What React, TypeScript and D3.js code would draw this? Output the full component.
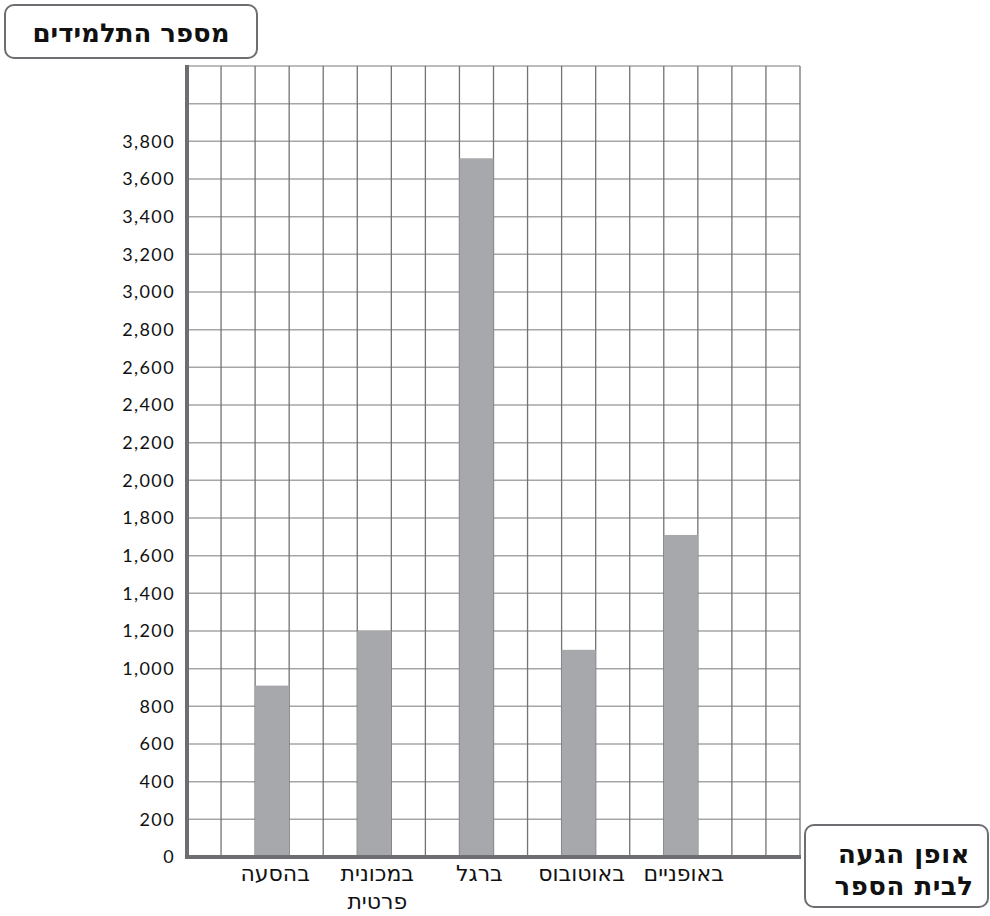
import React from 'react';
import * as d3 from 'd3';

// categories, read right-to-left as in the source
const categories = ['בהסעה', 'במכונית פרטית', 'ברגל', 'באוטובוס', 'באופניים'];
const students = [910, 1200, 3710, 1100, 1710];
const yTicks = d3.range(0, 3801, 200);
const yTitle = 'מספר התלמידים';
const xTitle = ['אופן הגעה', 'לבית הספר'];

const W = 990;
const H = 916;
const margin = { left: 187, right: 190, top: 66, bottom: 59 };
const COLS = 18;
const Y_MAX = 4200;

const App: React.FC = () => {
  const x = d3.scaleLinear().domain([0, COLS]).range([margin.left, W - margin.right]);
  const y = d3.scaleLinear().domain([0, Y_MAX]).range([H - margin.bottom, margin.top]);
  const colW = x(1) - x(0);
  const fmt = d3.format(',');

  // each bar sits in its own column, with two empty columns in between
  const slot = (i: number) => 2 + 3 * i;

  return (
    <svg width={W} height={H} style={{ position: 'absolute', left: 0, top: 0, background: '#fff' }}>
      {/* horizontal grid */}
      <g>
        {d3.range(200, Y_MAX + 1, 200).map((v) => (
          <line key={v} x1={x(0)} x2={x(COLS)} y1={y(v)} y2={y(v)} stroke="#a6a6a6" strokeWidth={1.5} />
        ))}
      </g>
      {/* vertical grid */}
      <g>
        {d3.range(1, COLS + 1).map((c) => (
          <line key={c} x1={x(c)} x2={x(c)} y1={y(Y_MAX)} y2={y(0)} stroke="#737373" strokeWidth={1.3} />
        ))}
      </g>
      {/* bars */}
      <g>
        {students.map((v, i) => (
          <rect key={i} x={x(slot(i))} width={colW} y={y(v)} height={y(0) - y(v)} fill="#a7a8ab" />
        ))}
      </g>
      {/* axes */}
      <line x1={x(0)} x2={x(0)} y1={y(Y_MAX) - 1} y2={y(0) + 2} stroke="#6d6e71" strokeWidth={4} />
      <line x1={x(0) - 2} x2={x(COLS) + 1} y1={y(0)} y2={y(0)} stroke="#6d6e71" strokeWidth={4} />
      {/* y tick labels */}
      <g fontFamily="Lato, 'Open Sans', sans-serif" fontSize={18} letterSpacing={1.4} fill="#111" textAnchor="end">
        {yTicks.map((t) => (
          <text key={t} x={x(0) - 12} y={y(t)} dy="0.35em">{fmt(t)}</text>
        ))}
      </g>
      {/* category labels */}
      <g fontFamily="'DejaVu Sans', 'Liberation Sans', sans-serif" fontSize={22} fill="#111" textAnchor="middle">
        {categories.map((c, i) => {
          const words = c.split(' ');
          const cx = x(slot(i)) + colW / 2 + 3;
          return (
            <text key={c} x={cx} y={y(0) + 24} direction="rtl">
              {words.map((w, j) => (
                <tspan key={j} x={cx} dy={j === 0 ? 0 : 28}>{w}</tspan>
              ))}
            </text>
          );
        })}
      </g>
      {/* y title box */}
      <rect x={5} y={5} width={252} height={53} rx={9} fill="#fff" stroke="#6d6e71" strokeWidth={2} />
      <text x={131} y={42} textAnchor="middle" direction="rtl"
        fontFamily="'DejaVu Sans', sans-serif" fontWeight="bold" fontSize={26} fill="#111">{yTitle}</text>
      {/* x title box */}
      <rect x={805} y={825} width={183} height={82} rx={9} fill="#fff" stroke="#6d6e71" strokeWidth={2} />
      <g fontFamily="'DejaVu Sans', sans-serif" fontWeight="bold" fontSize={26} fill="#111" textAnchor="middle">
        {xTitle.map((t, i) => (
          <text key={t} x={904} y={863 + i * 32} direction="rtl" letterSpacing={0.5}>{t}</text>
        ))}
      </g>
    </svg>
  );
};

export default App;
